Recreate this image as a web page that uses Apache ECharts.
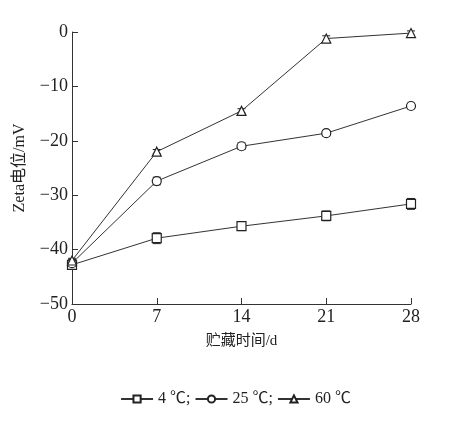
<!DOCTYPE html>
<html>
<head>
    <meta charset="utf-8">
    <title>zeta</title>
</head>
<body style="margin:0;background:#fff;">
    <div id="main" style="width: 471px;height:422px;"></div>

    <script src="https://cdn.jsdelivr.net/npm/echarts@6/dist/echarts.min.js"></script>
    <script type="text/javascript">
        var days = [0, 7, 14, 21, 28];
        var names = ['4 ℃;', '25 ℃;', '60 ℃'];
        var t4 = [-42.8, -37.9, -35.7, -33.8, -31.6];
        var t25 = [-42.5, -27.4, -21.0, -18.6, -13.6];
        var t60 = [-42.0, -22.0, -14.5, -1.2, -0.2];
        var err4 = [0.8, 1.0, 0.8, 0.9, 1.0];
        var err25 = [0.6, 0.7, 0.6, 0.5, 0.5];
        var err60 = [0.4, 0.4, 0.4, 0.5, 0.4];

        var font = '"Liberation Serif", "Noto Sans CJK SC", serif';

        function pairs(v) {
            var out = [];
            for (var i = 0; i < days.length; i++) out.push([days[i], v[i]]);
            return out;
        }
        function errData(v, e) {
            var out = [];
            for (var i = 0; i < days.length; i++) out.push([days[i], v[i] - e[i], v[i] + e[i]]);
            return out;
        }
        function errSeries(v, e) {
            return {
                type: 'custom',
                silent: true,
                z: 1,
                data: errData(v, e),
                renderItem: function (params, api) {
                    var lo = api.coord([api.value(0), api.value(1)]);
                    var hi = api.coord([api.value(0), api.value(2)]);
                    var w = 4;
                    var st = { stroke: '#222', lineWidth: 1 };
                    return {
                        type: 'group',
                        children: [
                            { type: 'line', shape: { x1: lo[0], y1: lo[1], x2: hi[0], y2: hi[1] }, style: st },
                            { type: 'line', shape: { x1: lo[0] - w, y1: lo[1], x2: lo[0] + w, y2: lo[1] }, style: st },
                            { type: 'line', shape: { x1: hi[0] - w, y1: hi[1], x2: hi[0] + w, y2: hi[1] }, style: st }
                        ]
                    };
                }
            };
        }
        function lineSeries(name, v, sym) {
            return {
                name: name,
                type: 'line',
                data: pairs(v),
                symbol: sym,
                symbolSize: 9,
                z: 3,
                lineStyle: { color: '#333', width: 1 },
                itemStyle: { color: '#fff', borderColor: '#222', borderWidth: 1.2 }
            };
        }

        var myChart = echarts.init(document.getElementById('main'));
        var option = {
            animation: false,
            backgroundColor: '#fff',
            grid: { left: 72, right: 60, top: 32, bottom: 118 },
            legend: {
                bottom: 10,
                left: 'center',
                itemWidth: 32,
                itemHeight: 9,
                itemGap: 4,
                textStyle: { fontFamily: font, fontSize: 16, color: '#222' },
                data: names
            },
            xAxis: {
                type: 'value',
                min: 0, max: 28, interval: 7,
                name: '贮藏时间/d',
                nameLocation: 'middle',
                nameGap: 30,
                nameTextStyle: { fontFamily: font, fontSize: 15, color: '#222' },
                axisLine: { onZero: false, lineStyle: { color: '#333', width: 1 } },
                axisTick: { inside: true, length: 6, lineStyle: { color: '#333' } },
                axisLabel: { fontFamily: font, fontSize: 18, color: '#222', margin: 4 },
                splitLine: { show: false }
            },
            yAxis: {
                type: 'value',
                min: -50, max: 0, interval: 10,
                name: 'Zeta电位/mV',
                nameLocation: 'middle',
                nameGap: 44,
                nameTextStyle: { fontFamily: font, fontSize: 16, color: '#222' },
                axisLine: { show: true, onZero: false, lineStyle: { color: '#333', width: 1 } },
                axisTick: { inside: true, length: 6, lineStyle: { color: '#333' } },
                axisLabel: {
                    fontFamily: font, fontSize: 18, color: '#222', margin: 4,
                    formatter: function (v) { return String(v).replace('-', '−'); }
                },
                splitLine: { show: false }
            },
            series: [
                errSeries(t4, err4),
                errSeries(t25, err25),
                errSeries(t60, err60),
                lineSeries(names[0], t4, 'rect'),
                lineSeries(names[1], t25, 'circle'),
                lineSeries(names[2], t60, 'triangle')
            ]
        };
        myChart.setOption(option);
    </script>
</body>
</html>
